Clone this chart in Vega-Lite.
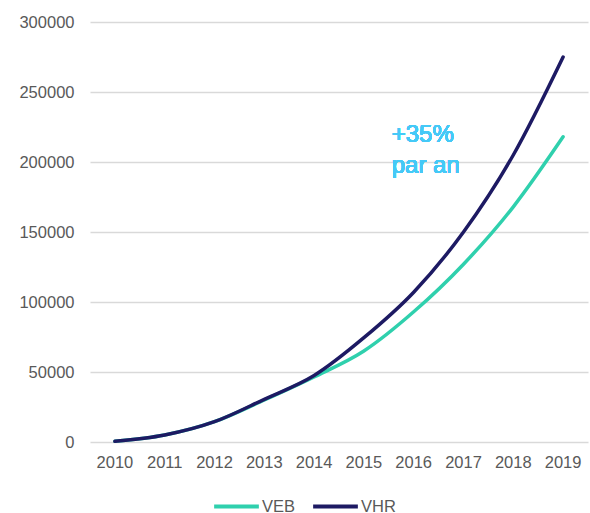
{
  "$schema": "https://vega.github.io/schema/vega-lite/v6.json",
  "width": 498,
  "height": 420,
  "autosize": {"type": "none"},
  "padding": {"left": 90, "top": 22, "right": 2, "bottom": 71},
  "config": {
    "view": {"stroke": null},
    "font": "Liberation Sans",
    "axis": {"labelFont": "Liberation Sans", "labelColor": "#595959", "labelFontSize": 16.5}
  },
  "data": {"values": [
    {"year": "2010", "series": "VEB", "value": 500},
    {"year": "2011", "series": "VEB", "value": 5000},
    {"year": "2012", "series": "VEB", "value": 14500},
    {"year": "2013", "series": "VEB", "value": 30000},
    {"year": "2014", "series": "VEB", "value": 46500},
    {"year": "2015", "series": "VEB", "value": 65000},
    {"year": "2016", "series": "VEB", "value": 93000},
    {"year": "2017", "series": "VEB", "value": 127000},
    {"year": "2018", "series": "VEB", "value": 168000},
    {"year": "2019", "series": "VEB", "value": 218000},
    {"year": "2010", "series": "VHR", "value": 500},
    {"year": "2011", "series": "VHR", "value": 5000},
    {"year": "2012", "series": "VHR", "value": 14500},
    {"year": "2013", "series": "VHR", "value": 30500},
    {"year": "2014", "series": "VHR", "value": 47500},
    {"year": "2015", "series": "VHR", "value": 74500},
    {"year": "2016", "series": "VHR", "value": 107000},
    {"year": "2017", "series": "VHR", "value": 150000},
    {"year": "2018", "series": "VHR", "value": 205000},
    {"year": "2019", "series": "VHR", "value": 275000}
  ]},
  "layer": [
    {
      "mark": {"type": "line", "strokeWidth": 3.5, "interpolate": "monotone", "strokeCap": "round"},
      "encoding": {
        "x": {"field": "year", "type": "ordinal", "scale": {"type": "band", "paddingInner": 0, "paddingOuter": 0},
              "axis": {"title": null, "labelAngle": 0, "domain": false, "ticks": false, "labelPadding": 12}},
        "y": {"field": "value", "type": "quantitative", "scale": {"domain": [0, 300000]},
              "axis": {"title": null, "values": [0, 50000, 100000, 150000, 200000, 250000, 300000], "format": "d",
                       "labelOverlap": false, "domain": false, "ticks": false, "labelPadding": 16, "gridColor": "#d9d9d9", "gridWidth": 1.5}},
        "color": {"field": "series", "type": "nominal",
                  "scale": {"domain": ["VEB", "VHR"], "range": ["#2fd0ad", "#1d1a63"]},
                  "legend": {"title": null, "orient": "none", "legendX": 122, "legendY": 460, "direction": "horizontal", "symbolType": "stroke",
                             "symbolSize": 2000, "symbolStrokeWidth": 4, "labelFontSize": 16.5, "labelColor": "#595959",
                             "columnPadding": 9, "labelOffset": 1, "padding": 0, "offset": 0}}
      }
    },
    {
      "mark": {"type": "text", "align": "left", "baseline": "alphabetic", "fontSize": 24, "fontWeight": "normal", "color": "#45c9f7", "dx": -22, "lineHeight": 31, "lineBreak": "\n"},
      "encoding": {
        "x": {"datum": "2016"},
        "y": {"datum": 214300},
        "text": {"value": "+35%\npar an"}
      }
    }
  ]
}
